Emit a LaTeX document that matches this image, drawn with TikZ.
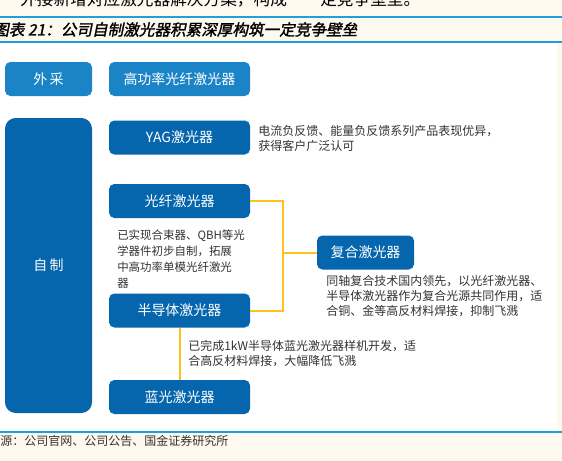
\documentclass[tikz,border=0pt]{standalone}
\usepackage{fontspec}
\setmainfont{Noto Sans CJK SC}
\newfontfamily\titlefont[FakeSlant=0.2,FakeBold=1.5]{Noto Sans CJK SC}
\usepackage{tikz}
\usetikzlibrary{
  positioning,
  calc
}
\definecolor{lsLight}{HTML}{1A84C7}
\definecolor{lsDark}{HTML}{0565AD}
\definecolor{lsLink}{HTML}{FFC21A}
\definecolor{lsRule}{HTML}{1DA1DD}
\definecolor{lsPaper}{HTML}{FDF9EF}
\definecolor{lsText}{HTML}{333333}
\tikzset{
  lsnode/.style={
    rounded corners=4pt, minimum height=25.5pt, minimum width=105.75pt,
    text=white, inner sep=0pt, font=\fontsize{10.5}{12}\selectfont
  },
  buy/.style={lsnode, fill=lsLight},
  laser/.style={lsnode, fill=lsDark},
  own/.style={lsnode, fill=lsDark, minimum width=65.25pt, minimum height=221.25pt, rounded corners=8pt},
  note/.style={align=left, anchor=north west, inner sep=0pt, text=lsText, font=\fontsize{9}{11.4}\selectfont},
  link/.style={line width=1.5pt, lsLink},
  rule/.style={line width=1.5pt, lsRule}
}

\begin{document}
\begin{tikzpicture}[x=0.75pt, y=-0.75pt, node distance=6pt]
  % page, strips and rules
  \useasboundingbox (0,0) rectangle (562,461);
  \fill[lsPaper] (0,0) rectangle (562,461);
  \fill[white] (0,42) rectangle (557,432);
  \draw[rule] (0,17) -- (562,17);
  \draw[rule] (0,42) -- (562,42);
  \draw[rule] (0,432) -- (562,432);
  \node[anchor=base west, inner sep=0pt, text=black, font=\fontsize{12.5}{14}\selectfont] (lead) at (20,5)
    {外接新增对应激光器解决方案，构成“一定竞争壁垒。};
  \node[anchor=west, inner sep=0pt, font=\titlefont\fontsize{11.7}{14}\selectfont] (title) at (-7,29.5)
    {图表 21：公司自制激光器积累深厚构筑一定竞争壁垒};
  \node[anchor=west, inner sep=0pt, text=lsText, font=\fontsize{9}{11}\selectfont] (source) at (-12,441)
    {来源：公司官网、公司公告、国金证券研究所};

  % boxes
  \node[buy, minimum width=65.25pt] (waicai) at (48.5,79) {外\,采};
  \node[buy] (gaogong) at (179.5,79) {高功率光纤激光器};
  \node[own] (zizhi) at (48.5,265.5) {自\,制};
  \node[laser] (yag) at (179.5,137.5) {YAG激光器};
  \node[laser] (fiber) at (179.5,201) {光纤激光器};
  \node[laser] (semi) at (179.5,310.5) {半导体激光器};
  \node[laser] (bluel) at (179.5,397) {蓝光激光器};
  \node[laser, minimum width=72.75pt] (hybrid) at (365.5,252.5) {复合激光器};

  % notes
  \node[note] (yagnote) at (258,125)
    {电流负反馈、能量负反馈系列产品表现优异，\\获得客户广泛认可};
  \node[note, font=\fontsize{8.6}{11.8}\selectfont] (fibernote) at (117,230)
    {已实现合束器、QBH等光\\学器件初步自制，拓展\\中高功率单模光纤激光\\器};
  \node[note] (hybridnote) at (326,275)
    {同轴复合技术国内领先，以光纤激光器、\\半导体激光器作为复合光源共同作用，适\\合铜、金等高反材料焊接，抑制飞溅};
  \node[note] (bluenote) at (188,340)
    {已完成1kW半导体蓝光激光器样机开发，适\\合高反材料焊接，大幅降低飞溅};

  % links
  \coordinate (bus) at (283,0);
  \draw[link] (fiber.east) -- (fiber.east -| bus) -- (semi.east -| bus) -- (semi.east);
  \draw[link] (hybrid.west) -- (hybrid.west -| bus);
  \draw[link] (semi.south) -- (bluel.north);
\end{tikzpicture}
\end{document}
